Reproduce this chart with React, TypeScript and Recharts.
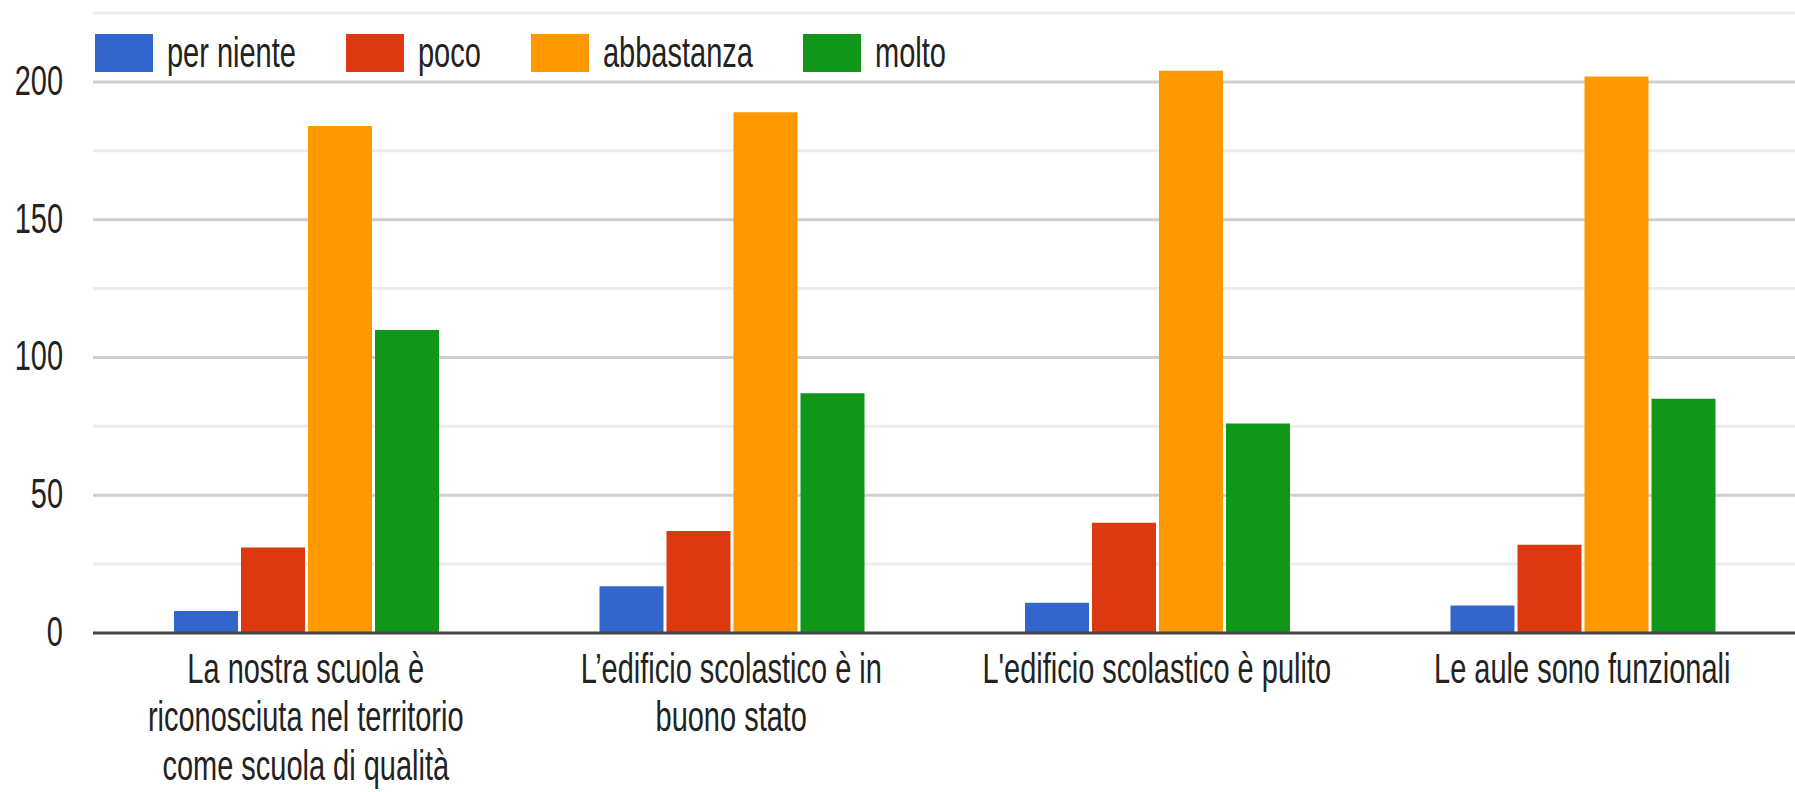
import { BarChart, Bar, XAxis, YAxis, CartesianGrid, Legend } from "recharts"

const categories = [
  "La nostra scuola è riconosciuta nel territorio come scuola di qualità",
  "L’edificio scolastico è in buono stato",
  "L'edificio scolastico è pulito",
  "Le aule sono funzionali",
]

const perNiente = [8, 17, 11, 10]
const poco = [31, 37, 40, 32]
const abbastanza = [184, 189, 204, 202]
const molto = [110, 87, 76, 85]

const seriesNames = ["per niente", "poco", "abbastanza", "molto"]
const seriesColors = ["#3366cc", "#dc3912", "#ff9900", "#109618"]

const yTicks = [0, 25, 50, 75, 100, 125, 150, 175, 200, 225]
const majorLines = [50, 100, 150, 200]
const minorLines = [25, 75, 125, 175, 225]

const FONT = '"Liberation Sans", Arial, sans-serif'
const FONT_SIZE = 42
// the source picture is squeezed sideways, so text is drawn narrow
const SQUEEZE = 0.69
const WRAP_WIDTH = 372

const data = categories.map((name, i) => ({
  name,
  s0: perNiente[i],
  s1: poco[i],
  s2: abbastanza[i],
  s3: molto[i],
}))

let ctx: CanvasRenderingContext2D | null = null
function measure(text: string) {
  if (!ctx) {
    ctx = document.createElement("canvas").getContext("2d")
  }
  if (!ctx) return text.length * FONT_SIZE * 0.5
  ctx.font = `${FONT_SIZE}px "Liberation Sans", Arial, sans-serif`
  return ctx.measureText(text).width
}

function wrap(text: string, maxWidth: number) {
  const words = text.split(" ")
  const lines: string[] = []
  let cur = ""
  for (const w of words) {
    const next = cur ? cur + " " + w : w
    if (cur && measure(next) * SQUEEZE > maxWidth) {
      lines.push(cur)
      cur = w
    } else {
      cur = next
    }
  }
  if (cur) lines.push(cur)
  return lines
}

function XTick({ x, y, payload }: any) {
  const lines = wrap(String(payload.value), WRAP_WIDTH)
  return (
    <g transform={`translate(${x},${y}) scale(${SQUEEZE},1)`}>
      <text textAnchor="middle" fill="#222" fontSize={FONT_SIZE} fontFamily={FONT}>
        {lines.map((l, i) => (
          <tspan key={i} x={0} dy={i === 0 ? 44 : 48.5}>
            {l}
          </tspan>
        ))}
      </text>
    </g>
  )
}

function YTick({ x, y, payload }: any) {
  if (payload.value % 50 !== 0) return <g />
  return (
    <g transform={`translate(${x},${y}) scale(${SQUEEZE},1)`}>
      <text textAnchor="end" fill="#222" fontSize={FONT_SIZE} fontFamily={FONT} dy={13}>
        {payload.value}
      </text>
    </g>
  )
}

function LegendContent({ payload }: any) {
  return (
    <div style={{ display: "flex", alignItems: "center" }}>
      {(payload || []).map((item: any) => (
        <div key={item.value} style={{ display: "flex", alignItems: "center", marginRight: 50 }}>
          <div style={{ width: 58, height: 38, background: item.color }} />
          <span
            style={{
              display: "inline-block",
              width: measure(item.value) * SQUEEZE,
              marginLeft: 14,
              whiteSpace: "nowrap",
              fontSize: FONT_SIZE,
              fontFamily: FONT,
              lineHeight: "38px",
              color: "#222",
            }}
          >
            <span style={{ display: "inline-block", transform: `scaleX(${SQUEEZE})`, transformOrigin: "left center" }}>
              {item.value}
            </span>
          </span>
        </div>
      ))}
    </div>
  )
}

export default function App() {
  return (
    <div style={{ position: "absolute", left: 0, top: 0, width: 1795, height: 792, background: "#fff" }}>
      <BarChart
        width={1795}
        height={792}
        data={data}
        margin={{ top: 13, right: 0, bottom: 0, left: 0 }}
        barCategoryGap={81}
        barGap={3}
      >
        <CartesianGrid vertical={false} horizontalValues={minorLines} stroke="#ececec" strokeWidth={3} />
        <CartesianGrid vertical={false} horizontalValues={majorLines} stroke="#cfcfcf" strokeWidth={3} />
        <XAxis
          dataKey="name"
          interval={0}
          height={159}
          tickLine={false}
          tickMargin={0}
          axisLine={{ stroke: "#444", strokeWidth: 3 }}
          tick={<XTick />}
        />
        <YAxis
          width={93}
          domain={[0, 225]}
          ticks={yTicks}
          interval={0}
          axisLine={false}
          tickLine={false}
          tickMargin={24}
          tick={<YTick />}
        />
        <Legend
          verticalAlign="middle"
          align="center"
          itemSorter="dataKey"
          wrapperStyle={{ top: 34, left: 95, width: "auto" }}
          content={<LegendContent />}
        />
        {seriesNames.map((name, i) => (
          <Bar key={name} dataKey={`s${i}`} name={name} fill={seriesColors[i]} isAnimationActive={false} />
        ))}
      </BarChart>
    </div>
  )
}
